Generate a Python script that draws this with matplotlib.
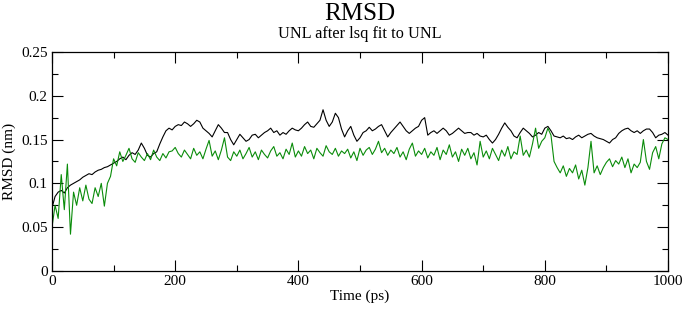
import numpy as np
import matplotlib.pyplot as plt
from matplotlib.ticker import MultipleLocator

plt.rcParams['font.family'] = ['Liberation Serif', 'DejaVu Serif']

# time axis, one value every 5 ps
time_ps = np.arange(0, 1001, 5)

# black series
rmsd_black = [
    0.072, 0.085, 0.090, 0.092, 0.089, 0.095, 0.098, 0.100, 0.102, 0.104,
    0.107, 0.109, 0.111, 0.110, 0.113, 0.115, 0.116, 0.118, 0.119, 0.121,
    0.123, 0.125, 0.128, 0.130, 0.127, 0.132, 0.135, 0.133, 0.138, 0.146,
    0.140, 0.132, 0.130, 0.134, 0.136, 0.145, 0.153, 0.160, 0.163, 0.161,
    0.165, 0.167, 0.166, 0.170, 0.168, 0.165, 0.168, 0.172, 0.170, 0.163,
    0.160, 0.157, 0.153, 0.160, 0.167, 0.163, 0.158, 0.158, 0.150, 0.144,
    0.150, 0.156, 0.152, 0.148, 0.150, 0.155, 0.156, 0.152, 0.155, 0.158,
    0.160, 0.163, 0.158, 0.160, 0.155, 0.158, 0.156, 0.160, 0.163, 0.161,
    0.160, 0.163, 0.167, 0.170, 0.165, 0.164, 0.168, 0.172, 0.184, 0.172,
    0.165, 0.170, 0.180, 0.175, 0.162, 0.153, 0.160, 0.165, 0.155, 0.148,
    0.152, 0.158, 0.160, 0.164, 0.160, 0.162, 0.165, 0.167, 0.160, 0.153,
    0.158, 0.162, 0.166, 0.170, 0.165, 0.160, 0.157, 0.160, 0.163, 0.165,
    0.172, 0.175, 0.155, 0.158, 0.160, 0.157, 0.160, 0.163, 0.160, 0.155,
    0.157, 0.160, 0.163, 0.160, 0.157, 0.158, 0.158, 0.155, 0.157, 0.154,
    0.153, 0.155, 0.150, 0.146, 0.150, 0.156, 0.163, 0.169, 0.164, 0.160,
    0.154, 0.152, 0.158, 0.163, 0.160, 0.157, 0.153, 0.155, 0.158, 0.156,
    0.163, 0.165, 0.160, 0.154, 0.153, 0.152, 0.154, 0.151, 0.152, 0.150,
    0.153, 0.155, 0.152, 0.154, 0.156, 0.157, 0.154, 0.152, 0.151, 0.150,
    0.148, 0.146, 0.150, 0.152, 0.157, 0.160, 0.162, 0.163, 0.160, 0.158,
    0.160, 0.157, 0.160, 0.162, 0.162, 0.158, 0.152, 0.155, 0.156, 0.158,
    0.155,
]

# green series
rmsd_green = [
    0.050, 0.075, 0.060, 0.110, 0.070, 0.122, 0.042, 0.090, 0.075, 0.095,
    0.080, 0.098, 0.082, 0.077, 0.095, 0.085, 0.100, 0.074, 0.100, 0.108,
    0.128, 0.120, 0.136, 0.125, 0.132, 0.140, 0.128, 0.124, 0.135, 0.130,
    0.126, 0.134, 0.127, 0.138, 0.130, 0.126, 0.134, 0.129, 0.136, 0.137,
    0.141, 0.134, 0.130, 0.138, 0.133, 0.128, 0.140, 0.132, 0.136, 0.128,
    0.139, 0.149, 0.131, 0.137, 0.127, 0.138, 0.152, 0.130, 0.126, 0.136,
    0.131, 0.138, 0.128, 0.134, 0.141, 0.130, 0.136, 0.127, 0.138, 0.133,
    0.129, 0.137, 0.142, 0.131, 0.135, 0.128, 0.139, 0.133, 0.146, 0.130,
    0.137, 0.131, 0.142, 0.134, 0.138, 0.128, 0.140, 0.135, 0.131, 0.143,
    0.136, 0.133, 0.140, 0.131, 0.137, 0.134, 0.139, 0.129, 0.136, 0.126,
    0.140, 0.132, 0.138, 0.141, 0.133, 0.139, 0.148, 0.135, 0.140, 0.132,
    0.138, 0.134, 0.141, 0.130, 0.136, 0.127, 0.139, 0.146, 0.131, 0.137,
    0.133, 0.140, 0.129, 0.136, 0.132, 0.141, 0.127, 0.138, 0.133, 0.144,
    0.130, 0.136, 0.125, 0.139, 0.132, 0.140, 0.128, 0.135, 0.121, 0.148,
    0.130, 0.137, 0.128, 0.140, 0.133, 0.126, 0.138, 0.131, 0.142, 0.128,
    0.136, 0.133, 0.154, 0.132, 0.138, 0.130, 0.145, 0.163, 0.140, 0.148,
    0.152, 0.163, 0.155, 0.125, 0.118, 0.112, 0.120, 0.108, 0.117, 0.112,
    0.121, 0.105, 0.115, 0.098, 0.118, 0.148, 0.112, 0.120, 0.110, 0.118,
    0.124, 0.128, 0.119, 0.126, 0.122, 0.130, 0.118, 0.128, 0.112, 0.122,
    0.118, 0.124, 0.150, 0.125, 0.116, 0.135, 0.142, 0.128, 0.145, 0.152,
    0.150,
]

fig = plt.figure(figsize=(6.85, 3.09), dpi=100)
ax = fig.add_axes([0.0759, 0.123, 0.8993, 0.709])

ax.plot(time_ps, rmsd_black, color='black', lw=0.8)
ax.plot(time_ps, rmsd_green, color='#0a8c0a', lw=0.8)

ax.set_xlim(0, 1000)
ax.set_ylim(0, 0.25)
ax.xaxis.set_major_locator(MultipleLocator(200))
ax.xaxis.set_minor_locator(MultipleLocator(100))
ax.yaxis.set_major_locator(MultipleLocator(0.05))
ax.yaxis.set_minor_locator(MultipleLocator(0.025))
ax.yaxis.set_major_formatter(plt.FuncFormatter(lambda v, p: '0' if v == 0 else ('%g' % round(v, 3))))

ax.tick_params(which='both', direction='in', top=True, right=True, labelsize=11, colors='black', width=0.8)
ax.tick_params(which='major', length=8, pad=3)
ax.tick_params(which='minor', length=4)
for s in ax.spines.values():
    s.set_linewidth(0.9)

ax.set_xlabel('Time (ps)', fontsize=11, labelpad=1)
ax.set_ylabel('RMSD (nm)', fontsize=11, labelpad=4)

fig.text(0.5 * (0.0759 + 0.975), 0.955, 'RMSD', ha='center', va='center', fontsize=18)
fig.text(0.5 * (0.0759 + 0.975), 0.89, 'UNL after lsq fit to UNL', ha='center', va='center', fontsize=11.7)

fig.savefig('out.png', dpi=100)
